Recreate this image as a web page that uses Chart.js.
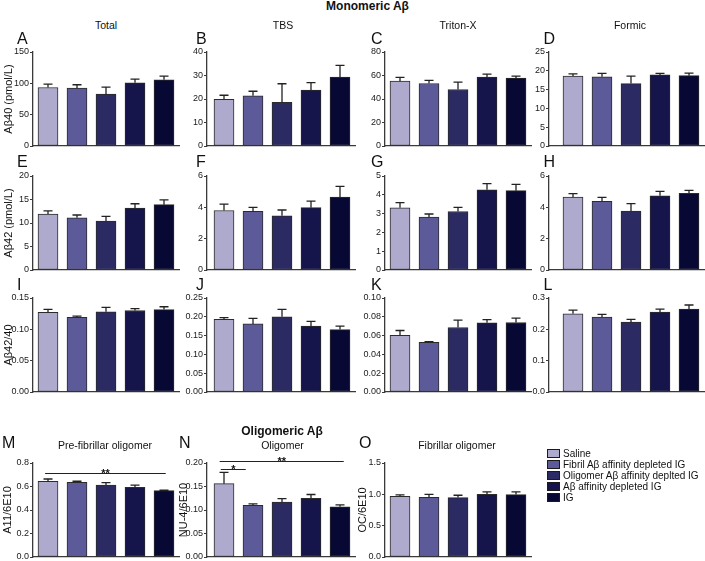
<!DOCTYPE html>
<html>
<head>
<meta charset="utf-8">
<script src="https://cdn.jsdelivr.net/npm/chart.js@4.4.1/dist/chart.umd.min.js"></script>
<style>
  body { margin: 0; background: #fff; }
  #fig { position: relative; width: 705px; height: 561px; overflow: hidden;
         font-family: Arial, "Liberation Sans", sans-serif; color: #111; }
  #fig canvas { position: absolute; }
  .txt { position: absolute; line-height: 1; white-space: nowrap; }
  .head { font-weight: bold; font-size: 12px; transform: translateX(-50%); }
  .sub { font-size: 10.5px; transform: translateX(-50%); }
  .letter { font-size: 16px; }
  .lg-box { position: absolute; width: 13px; height: 8.5px; box-sizing: border-box; border: 1px solid #1a1a1a; }
  .lg-txt { position: absolute; font-size: 10px; line-height: 1; white-space: nowrap; }
</style>
</head>
<body>
<div id="fig"></div>

<script>
// groups and colours
const groups = ['Saline', 'Fibril A\u03b2 affinity depleted IG', 'Oligomer A\u03b2 affinity deplted IG', 'A\u03b2 affinity depleted IG', 'IG'];
const barColors = ['#aeaacd', '#5c5a98', '#2b2a63', '#15154b', '#080835'];

// Monomeric Aβ40 (pmol/L)
const totalAb40 = [93.4, 92.3, 82.7, 100.9, 105.7];
const totalAb40Sem = [5.4, 5.4, 11.3, 5.9, 5.9];
const tbsAb40 = [19.9, 21.4, 18.6, 23.8, 29.3];
const tbsAb40Sem = [1.7, 1.9, 7.9, 3.2, 5.0];
const tritonAb40 = [55.2, 53.2, 48.1, 58.6, 57.8];
const tritonAb40Sem = [3.2, 2.6, 6.3, 2.6, 1.7];
const formicAb40 = [18.6, 18.4, 16.6, 18.9, 18.7];
const formicAb40Sem = [0.6, 0.9, 2.0, 0.4, 0.7];

// Monomeric Aβ42 (pmol/L)
const totalAb42 = [11.9, 11.1, 10.4, 13.2, 13.9];
const totalAb42Sem = [0.7, 0.6, 1.0, 0.9, 1.0];
const tbsAb42 = [3.80, 3.74, 3.46, 3.98, 4.65];
const tbsAb42Sem = [0.40, 0.26, 0.37, 0.41, 0.69];
const tritonAb42 = [3.31, 2.82, 3.11, 4.27, 4.22];
const tritonAb42Sem = [0.27, 0.16, 0.22, 0.32, 0.33];
const formicAb42 = [4.65, 4.39, 3.76, 4.74, 4.89];
const formicAb42Sem = [0.22, 0.24, 0.48, 0.28, 0.19];

// Aβ42/40 ratio
const totalRatio = [0.127, 0.119, 0.128, 0.130, 0.1315];
const totalRatioSem = [0.005, 0.002, 0.007, 0.003, 0.0045];
const tbsRatio = [0.193, 0.181, 0.200, 0.175, 0.166];
const tbsRatioSem = [0.005, 0.015, 0.0196, 0.0126, 0.009];
const tritonRatio = [0.0604, 0.0529, 0.0686, 0.0736, 0.0739];
const tritonRatioSem = [0.005, 0.0007, 0.0078, 0.0035, 0.0047];
const formicRatio = [0.2497, 0.239, 0.223, 0.255, 0.2647];
const formicRatioSem = [0.0118, 0.0086, 0.0085, 0.0097, 0.0129];

// Oligomeric Aβ
const a11 = [0.6445, 0.636, 0.613, 0.594, 0.565];
const a11Sem = [0.0195, 0.0085, 0.02, 0.017, 0.003];
const nu4 = [0.156, 0.110, 0.117, 0.125, 0.107];
const nu4Sem = [0.024, 0.003, 0.007, 0.008, 0.004];
const oc = [0.969, 0.953, 0.948, 1.0, 0.996];
const ocSem = [0.021, 0.047, 0.037, 0.04, 0.044];

// significance bars (group index from/to, height in axis units)
const sigA11 = [{ from: -0.1, to: 4.06, y: 0.715, label: '**' }];
const sigNu4 = [{ from: -0.11, to: 0.75, y: 0.187, label: '*' },
                { from: -0.15, to: 4.13, y: 0.205, label: '**' }];

// axes
const yMax = [150, 40, 80, 25, 20, 6, 5, 6, 0.15, 0.25, 0.1, 0.3, 0.8, 0.2, 1.5];
const yStep = [50, 10, 20, 5, 5, 2, 1, 2, 0.05, 0.05, 0.02, 0.1, 0.2, 0.05, 0.5];
const yDec = [0, 0, 0, 0, 0, 0, 0, 0, 2, 2, 2, 1, 1, 2, 1];
const yTitles = ['A\u03b240 (pmol/L)', '', '', '', 'A\u03b242 (pmol/L)', '', '', '',
                 'A\u03b242/40', '', '', '', 'A11/6E10', 'NU-4/6E10', 'OC/6E10'];
const panelLetters = ['A', 'B', 'C', 'D', 'E', 'F', 'G', 'H', 'I', 'J', 'K', 'L', 'M', 'N', 'O'];
const columnTitles = ['Total', 'TBS', 'Triton-X', 'Formic'];
const oligoTitles = ['Pre-fibrillar oligomer', 'Oligomer', 'Fibrillar oligomer'];

const means = [totalAb40, tbsAb40, tritonAb40, formicAb40, totalAb42, tbsAb42, tritonAb42, formicAb42,
               totalRatio, tbsRatio, tritonRatio, formicRatio, a11, nu4, oc];
const sems = [totalAb40Sem, tbsAb40Sem, tritonAb40Sem, formicAb40Sem, totalAb42Sem, tbsAb42Sem, tritonAb42Sem, formicAb42Sem,
              totalRatioSem, tbsRatioSem, tritonRatioSem, formicRatioSem, a11Sem, nu4Sem, ocSem];
const sigs = [[], [], [], [], [], [], [], [], [], [], [], [], sigA11, sigNu4, []];

// layout (pixels)
const colAxisX = [33, 207, 385, 549];
const colGap = [0.5, 2.5, 0.5, 9.5];
const rowTop = [52, 176, 298, 463];
const plotH = 94;
const catW = 29;
const yBoxW = 33;
const yTitleX = { 0: 9, 4: 9, 8: 9, 12: 8.3, 13: 184, 14: 363 };
const letterX = [17, 196, 371, 543.5];
const letterXRow4 = [2, 179, 359];
const letterBase = [45, 168, 290.5, 449];
const colTitleX = [106, 283, 458, 630];
const oligoTitleX = [105, 282.5, 457];

const axisColor = '#3a3a3a';
Chart.defaults.font.family = 'Arial, "Liberation Sans", sans-serif';

const fig = document.getElementById('fig');

function addText(cls, text, left, top) {
  const d = document.createElement('div');
  d.className = 'txt ' + cls;
  d.textContent = text;
  d.style.left = left + 'px';
  d.style.top = top + 'px';
  fig.appendChild(d);
}

// error bars (upward only, like the original)
const errorBars = {
  id: 'errorBars',
  afterDatasetsDraw(chart) {
    const ds = chart.data.datasets[0];
    const meta = chart.getDatasetMeta(0);
    const y = chart.scales.y;
    const ctx = chart.ctx;
    ctx.save();
    ctx.strokeStyle = '#222';
    ctx.lineWidth = 1.3;
    meta.data.forEach((bar, i) => {
      const top = y.getPixelForValue(ds.data[i].y + ds.errors[i]);
      ctx.beginPath();
      ctx.moveTo(bar.x, bar.y);
      ctx.lineTo(bar.x, top);
      ctx.moveTo(bar.x - 4.5, top);
      ctx.lineTo(bar.x + 4.5, top);
      ctx.stroke();
    });
    ctx.restore();
  }
};

// significance lines
const sigBars = {
  id: 'sigBars',
  afterDraw(chart) {
    const list = chart.data.datasets[0].sig || [];
    const ctx = chart.ctx;
    const x = chart.scales.x, y = chart.scales.y;
    ctx.save();
    ctx.strokeStyle = '#222';
    ctx.fillStyle = '#111';
    ctx.lineWidth = 1;
    ctx.font = 'bold 11px Arial, "Liberation Sans", sans-serif';
    ctx.textAlign = 'center';
    ctx.textBaseline = 'alphabetic';
    list.forEach(s => {
      const py = Math.round(y.getPixelForValue(s.y)) + 0.5;
      const x1 = x.getPixelForValue(s.from), x2 = x.getPixelForValue(s.to);
      ctx.beginPath();
      ctx.moveTo(x1, py);
      ctx.lineTo(x2, py);
      ctx.stroke();
      ctx.fillText(s.label, (x1 + x2) / 2, py + 3);
    });
    ctx.restore();
  }
};

function makePanel(p) {
  const row = Math.floor(p / 4), col = p % 4;
  const axisX = colAxisX[col];
  const padT = row === 3 ? 14 : 8, padB = 8, padR = 2;
  const xMin = -0.5 - colGap[col] / catW;
  const xMax = 4.55;
  const plotW = (xMax - xMin) * catW;
  const cw = Math.ceil(yBoxW + plotW + padR);
  const ch = padT + plotH + padB;
  const left = axisX - yBoxW;
  const top = rowTop[row] - padT;

  const canvas = document.createElement('canvas');
  canvas.width = cw;
  canvas.height = ch;
  canvas.style.left = left + 'px';
  canvas.style.top = top + 'px';
  canvas.style.width = cw + 'px';
  canvas.style.height = ch + 'px';
  fig.appendChild(canvas);

  const hasTitle = yTitles[p] !== '';
  const titlePad = hasTitle ? yTitleX[p] - left - 6.6 : 0;

  new Chart(canvas, {
    type: 'bar',
    data: {
      datasets: [{
        data: means[p].map((v, i) => ({ x: i, y: v })),
        errors: sems[p],
        sig: sigs[p],
        backgroundColor: barColors,
        borderColor: '#2b2b2b',
        borderWidth: 1,
        borderSkipped: false,
        barThickness: 20
      }]
    },
    options: {
      responsive: false,
      animation: false,
      devicePixelRatio: 1,
      layout: { padding: { left: 0, right: cw - yBoxW - plotW, top: padT, bottom: padB } },
      plugins: { legend: { display: false }, tooltip: { enabled: false } },
      scales: {
        x: {
          type: 'linear',
          min: xMin,
          max: xMax,
          offset: false,
          afterFit: s => { s.height = 0; },
          ticks: { display: false },
          grid: { display: false, drawTicks: false, offset: false },
          border: { display: true, color: axisColor, width: 1.3 }
        },
        y: {
          min: 0,
          max: yMax[p],
          afterFit: s => { s.width = yBoxW; },
          border: { display: true, color: axisColor, width: 1.3 },
          grid: { display: true, drawOnChartArea: false, drawTicks: true, tickLength: 3, color: axisColor, lineWidth: 1 },
          ticks: {
            stepSize: yStep[p],
            padding: 1,
            color: '#1a1a1a',
            font: { size: 9 },
            callback: v => Number(v).toFixed(yDec[p])
          },
          title: {
            display: hasTitle,
            text: yTitles[p],
            color: '#111',
            font: { size: 11 },
            padding: { top: titlePad, bottom: 0 }
          }
        }
      }
    },
    plugins: [errorBars, sigBars]
  });
}

for (let p = 0; p < 15; p++) makePanel(p);

// headings and letters
addText('head', 'Monomeric A\u03b2', 367.5, 0.4);
addText('head', 'Oligomeric A\u03b2', 282, 424.8);
columnTitles.forEach((t, i) => addText('sub', t, colTitleX[i], 20.4));
oligoTitles.forEach((t, i) => addText('sub', t, oligoTitleX[i], 439.7));
panelLetters.forEach((t, p) => {
  const row = Math.floor(p / 4), col = p % 4;
  const x = row === 3 ? letterXRow4[col] : letterX[col];
  addText('letter', t, x, letterBase[row] - 13.6);
});

// legend
groups.forEach((g, i) => {
  const box = document.createElement('div');
  box.className = 'lg-box';
  box.style.left = '547px';
  box.style.top = (449 + i * 11) + 'px';
  box.style.background = barColors[i];
  fig.appendChild(box);
  const t = document.createElement('div');
  t.className = 'lg-txt';
  t.textContent = g;
  t.style.left = '563px';
  t.style.top = (449.2 + i * 11) + 'px';
  fig.appendChild(t);
});
</script>
</body>
</html>
